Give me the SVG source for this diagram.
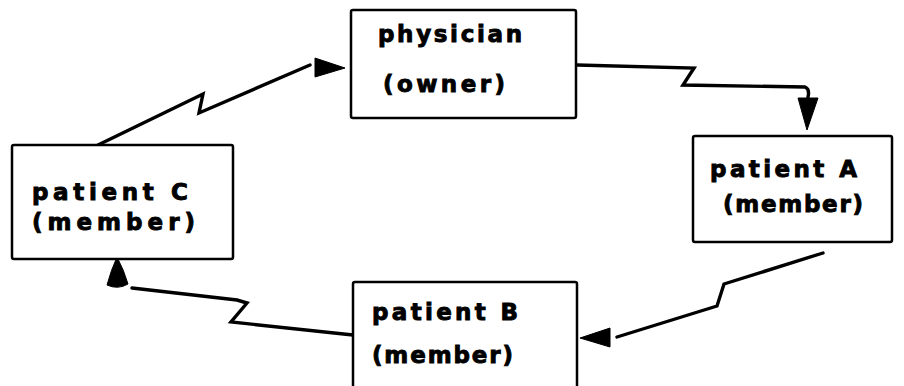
<svg xmlns="http://www.w3.org/2000/svg" width="904" height="386" viewBox="0 0 904 386">
<style>
.box{fill:#fff;stroke:#000;stroke-width:2.5}
.lbl{font-family:"DejaVu Sans",sans-serif;font-weight:bold;font-size:23px;fill:#000;stroke:#000;stroke-width:0.9}
.wire{fill:none;stroke:#000;stroke-width:3.4;stroke-linejoin:miter;stroke-linecap:round}
.head{fill:#000;stroke:#000;stroke-width:1}
</style>
<rect width="904" height="386" fill="#fff"/>
<g id="connectors">
<path class="wire" d="M98,145 L203,94 L199,113 L310,65"/>
<polygon class="head" points="315,58 345,68 315,77"/>
<path class="wire" d="M577,65 L694,68 L683,85 L805,87 Q810,89 808,97"/>
<polygon class="head" points="798,98 818,98 807,130"/>
<path class="wire" d="M823,253 L724,284 L717,306 L617,337"/>
<polygon class="head" points="610,328 580,338 610,347"/>
<path class="wire" d="M353,335 L231,322 L247,303 L237,300 L132,288"/>
<path class="head" d="M117,257 Q124,270 128,284 Q118,290 107,285 Q111,270 117,257 Z"/>
</g>
<g id="physician">
<rect class="box" x="351" y="10" width="225" height="108" rx="2"/>
<text class="lbl" x="378" y="42" textLength="144" lengthAdjust="spacing">physician</text>
<text class="lbl" x="383" y="92" textLength="122" lengthAdjust="spacing">(owner)</text>
</g>
<g id="patientA">
<rect class="box" x="693" y="136" width="199" height="106" rx="2"/>
<text class="lbl" x="710" y="177" textLength="147" lengthAdjust="spacing">patient  A</text>
<text class="lbl" x="723" y="212" textLength="140" lengthAdjust="spacing">(member)</text>
</g>
<g id="patientB">
<rect class="box" x="353" y="282" width="224" height="112" rx="2"/>
<text class="lbl" x="372" y="320" textLength="146" lengthAdjust="spacing">patient  B</text>
<text class="lbl" x="372" y="363" textLength="141" lengthAdjust="spacing">(member)</text>
</g>
<g id="patientC">
<rect class="box" x="12" y="145" width="221" height="114" rx="2"/>
<text class="lbl" x="32" y="200" textLength="156" lengthAdjust="spacing">patient  C</text>
<text class="lbl" x="32" y="230" textLength="163" lengthAdjust="spacing">(member)</text>
</g>
</svg>
